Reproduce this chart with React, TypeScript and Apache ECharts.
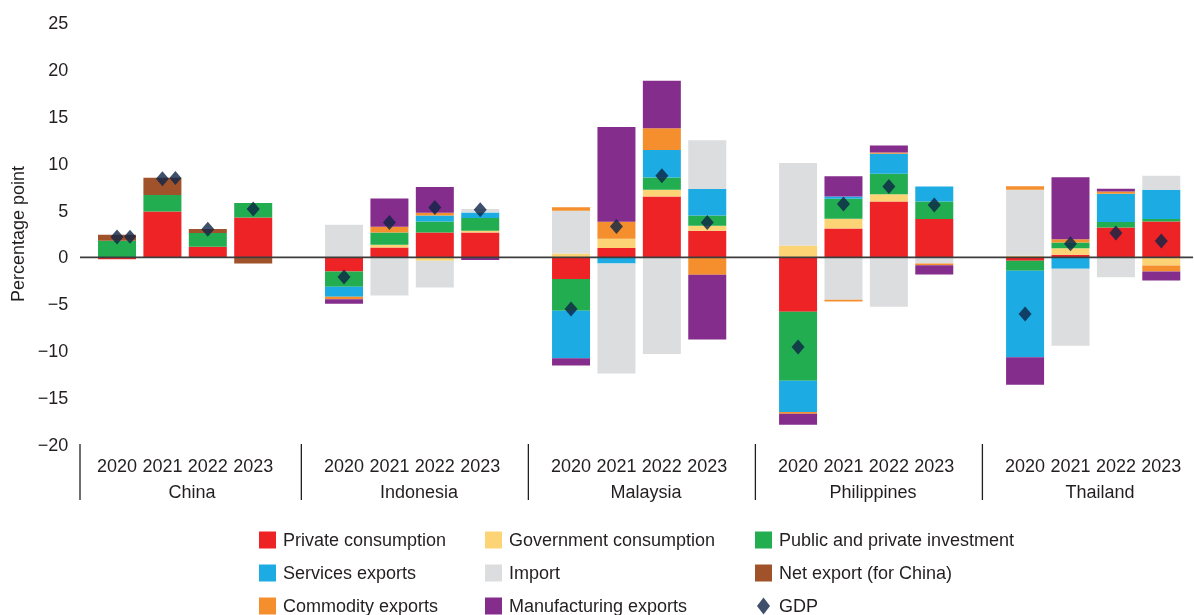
import { useEffect, useRef } from "react";
import * as echarts from "echarts";

const countries = ["China", "Indonesia", "Malaysia", "Philippines", "Thailand"];
const years = ["2020", "2021", "2022", "2023"];
const yTicks = { min: -20, max: 25, interval: 5 };

// values per country/year: China 2020..2023, Indonesia, Malaysia, Philippines, Thailand
const privateConsumption = [-0.2, 4.9, 1.14, 4.26, -1.49, 1.07, 2.67, 2.67, -2.31, 1.0, 6.5, 2.84, -5.79, 3.09, 5.97, 4.09, -0.36, 0.28, 3.2, 3.84];
const governmentConsumption = [0, 0, 0, 0, 0, 0.28, -0.36, 0.18, 0.43, 1.0, 0.71, 0.53, 1.28, 1.03, 0.78, 0, 0.18, 0.71, 0, -0.85];
const investment = [1.78, 1.75, 1.46, 1.54, -1.63, 1.32, 1.17, 1.35, -3.38, 0, 1.31, 1.1, -7.36, 2.13, 2.17, 1.88, -1.07, 0.6, 0.57, 0.25];
const servicesExports = [0, 0, 0, 0, -1.07, 0, 0.64, 0.6, -5.05, -0.64, 2.95, 2.84, -3.34, 0.25, 2.13, 1.6, -9.2, -1.21, 3.02, 3.13];
const imports = [0, 0, 0, 0, 3.49, -4.05, -2.84, 0.36, 4.55, -11.73, -10.3, 5.19, 8.78, -4.51, -5.26, -0.64, 7.04, -8.21, -2.1, 1.49];
const commodityExports = [0, 0, 0, 0, -0.28, 0.6, 0.28, 0, 0.36, 1.81, 2.31, -1.85, -0.18, -0.18, 0.14, -0.18, 0.36, 0.36, 0.25, -0.64];
const manufacturingExports = [0, 0, 0, 0, -0.46, 3.02, 2.74, -0.28, -0.78, 10.1, 5.05, -6.9, -1.17, 2.17, 0.75, -1.0, -2.95, 6.61, 0.28, -0.96];
const netExportChina = [0.64, 1.85, 0.42, -0.64, 0, 0, 0, 0, 0, 0, 0, 0, 0, 0, 0, 0, 0, 0, 0, 0];
const gdp = [2.17, 8.4, 3.0, 5.16, -2.09, 3.73, 5.33, 5.08, -5.5, 3.3, 8.71, 3.73, -9.55, 5.69, 7.57, 5.59, -6.03, 1.46, 2.6, 1.75];
const gdpEcho = [2.2, 8.46, 0, 0, 0, 0, 0, 0, 0, 0, 0, 0, 0, 0, 0, 0, 0, 0, 0, 0];

const seriesDefs = [
  { name: "Private consumption", values: privateConsumption, color: "#ee2326" },
  { name: "Government consumption", values: governmentConsumption, color: "#fcd475" },
  { name: "Public and private investment", values: investment, color: "#22ad50" },
  { name: "Services exports", values: servicesExports, color: "#1cabe2" },
  { name: "Import", values: imports, color: "#dcdddf" },
  { name: "Commodity exports", values: commodityExports, color: "#f58f2e" },
  { name: "Manufacturing exports", values: manufacturingExports, color: "#852d8c" },
  { name: "Net export (for China)", values: netExportChina, color: "#a0522a" },
];

const GDP_COLOR = "#0e2446";
const TEXT = "#231f20";
const FONT = "'Liberation Sans', Arial, sans-serif";

// build slotted categories: 4 years per country with an empty slot between groups
const categories: string[] = [];
const slotOf: number[] = [];
countries.forEach((_, g) => {
  years.forEach((yr) => {
    slotOf.push(categories.length);
    categories.push(yr);
  });
  if (g < countries.length - 1) categories.push("");
});

function toSlots(values: number[]) {
  const out: (number | null)[] = categories.map(() => null);
  values.forEach((v, i) => {
    out[slotOf[i]] = v === 0 ? null : v;
  });
  return out;
}

const diamond = "path://M6.5,0 L13,8.5 L6.5,17 L0,8.5 Z";

export default function App() {
  const ref = useRef<HTMLDivElement>(null);
  useEffect(() => {
    const chart = echarts.init(ref.current!, null, { renderer: "svg" });
    const legendBase = {
      orient: "vertical" as const,
      top: 531,
      padding: 0,
      itemWidth: 17,
      itemHeight: 17,
      itemGap: 15,
      icon: "rect",
      textStyle: { fontSize: 18, color: TEXT, fontFamily: FONT, padding: [0, 0, 0, 2] },
    };
    chart.setOption({
      animation: false,
      textStyle: { fontFamily: FONT },
      grid: { left: 94.3, right: 10, top: 23, bottom: 170, containLabel: false },
      legend: [
        { ...legendBase, left: 259, data: ["Private consumption", "Services exports", "Commodity exports"] },
        { ...legendBase, left: 485, data: ["Government consumption", "Import", "Manufacturing exports"] },
        {
          ...legendBase,
          left: 755,
          data: [
            "Public and private investment",
            "Net export (for China)",
            { name: "GDP", icon: diamond },
          ],
        },
      ],
      xAxis: {
        type: "category",
        data: categories,
        axisLine: { show: false },
        axisTick: { show: false },
        axisLabel: { interval: 0, fontSize: 18, color: TEXT, margin: 12, fontFamily: FONT },
      },
      yAxis: {
        type: "value",
        min: yTicks.min,
        max: yTicks.max,
        interval: yTicks.interval,
        name: "Percentage point",
        nameLocation: "middle",
        nameGap: 67,
        nameTextStyle: { fontSize: 18, color: TEXT, fontFamily: FONT },
        axisLine: { show: false },
        axisTick: { show: false },
        splitLine: { show: false },
        axisLabel: {
          fontSize: 18,
          color: TEXT,
          margin: 26,
          fontFamily: FONT,
          formatter: (v: number) => String(v).replace("-", "\u2212"),
        },
      },
      series: [
        ...seriesDefs.map((s) => ({
          type: "bar",
          name: s.name,
          stack: "total",
          barWidth: 38,
          data: toSlots(s.values),
          itemStyle: { color: s.color },
          emphasis: { disabled: true },
        })),
        {
          type: "scatter",
          name: "GDP",
          data: toSlots(gdpEcho),
          symbol: "diamond",
          symbolSize: [12, 14],
          symbolOffset: [13, 0],
          itemStyle: { color: GDP_COLOR },
          z: 3,
        },
        {
          type: "scatter",
          name: "GDP",
          data: toSlots(gdp),
          symbol: "diamond",
          symbolSize: [13, 15],
          itemStyle: { color: GDP_COLOR },
          z: 4,
        },
      ],
    });

    const x = (i: number) => chart.convertToPixel({ xAxisIndex: 0 }, i) as number;
    const y = (v: number) => chart.convertToPixel({ yAxisIndex: 0 }, v) as number;
    const step = x(1) - x(0);
    const leftEdge = x(0) - step * 0.815;
    const rightEdge = x(categories.length - 1) + step * 0.7;
    const y0 = y(0);
    const yBottom = y(yTicks.min);
    const sepX = [leftEdge];
    for (let g = 1; g < countries.length; g++) sepX.push(x(slotOf[g * 4] - 1) + step * 0.06);

    const graphic: any[] = [
      {
        type: "line",
        shape: { x1: leftEdge, y1: y0, x2: rightEdge, y2: y0 },
        style: { stroke: "#3d3d3d", lineWidth: 1.8 },
        z: 10,
      },
      ...sepX.map((sx) => ({
        type: "line",
        shape: { x1: sx, y1: yBottom - 1, x2: sx, y2: yBottom + 55 },
        style: { stroke: TEXT, lineWidth: 1.3 },
      })),
      ...countries.map((c, g) => {
        const cx = (x(slotOf[g * 4 + 1]) + x(slotOf[g * 4 + 2])) / 2 + step * 0.15;
        return {
          type: "text",
          x: cx,
          y: yBottom + 47,
          style: {
            text: c,
            fontSize: 18,
            fill: TEXT,
            fontFamily: FONT,
            align: "center",
            verticalAlign: "middle",
          },
        };
      }),
    ];
    chart.setOption({ graphic });
    return () => chart.dispose();
  }, []);
  return <div ref={ref} style={{ position: "fixed", left: 0, top: 0, width: 1194, height: 615 }} />;
}
